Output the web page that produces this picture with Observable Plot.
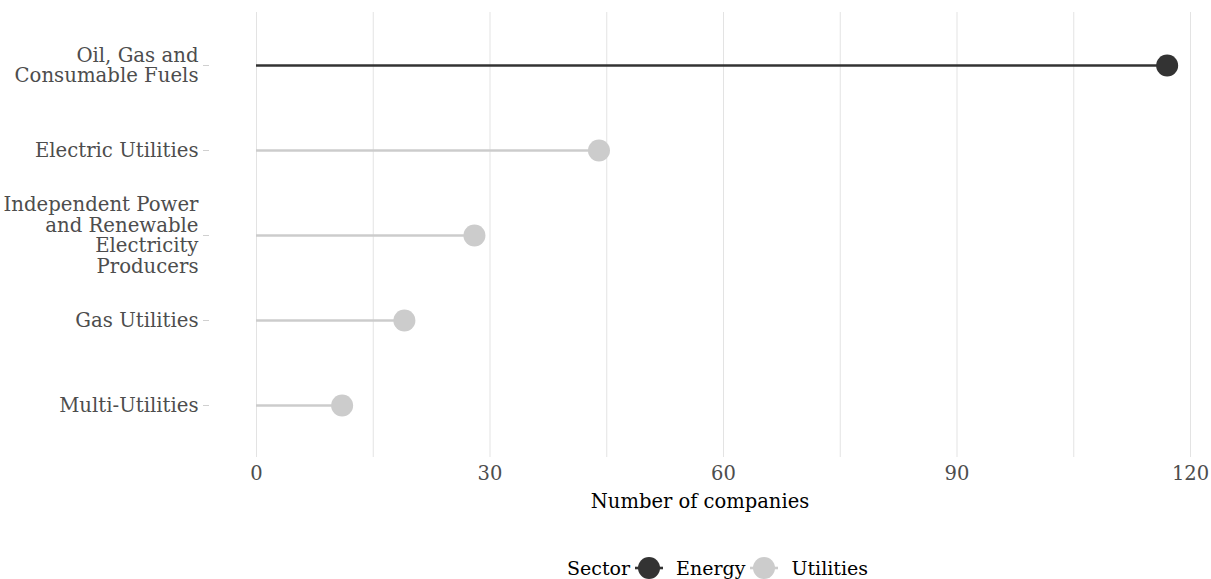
<!DOCTYPE html>
<html>
<head>
<meta charset="utf-8">
<script src="https://cdn.jsdelivr.net/npm/d3@7"></script>
<script src="https://cdn.jsdelivr.net/npm/@observablehq/plot@0.6"></script>
<style>
  html, body { margin: 0; padding: 0; background: #fff; }
  body { width: 1211px; height: 579px; overflow: hidden; font-family: "DejaVu Serif", serif; }
  #legend { display: flex; justify-content: flex-start; align-items: center; height: 30px; margin-top: 13px; font-size: 19px; color: #000; padding-left: 567px; }
  #legend .item { display: flex; align-items: center; }
  #legend svg { display: block; }
</style>
</head>
<body>
<div id="chart"></div>
<div id="legend"></div>
<script>
const industries = [
  "Oil, Gas and Consumable Fuels",
  "Electric Utilities",
  "Independent Power and Renewable Electricity Producers",
  "Gas Utilities",
  "Multi-Utilities"
];
const industryLabels = [
  "Oil, Gas and\nConsumable Fuels",
  "Electric Utilities",
  "Independent Power\nand Renewable\nElectricity\nProducers",
  "Gas Utilities",
  "Multi-Utilities"
];
const sectors = ["Energy", "Utilities", "Utilities", "Utilities", "Utilities"];
const counts = [117, 44, 28, 19, 11];
const sectorNames = ["Energy", "Utilities"];
const sectorColors = ["#333333", "#cccccc"];
const gridTicks = [0, 15, 30, 45, 60, 75, 90, 105, 120];
const labelTicks = [0, 30, 60, 90, 120];

const data = industries.map((d, i) => ({industry: d, label: industryLabels[i], sector: sectors[i], count: counts[i]}));
const labelOf = new Map(industries.map((d, i) => [d, industryLabels[i]]));

const chart = Plot.plot({
  width: 1211,
  height: 540,
  marginLeft: 209,
  marginRight: 21,
  marginTop: 12,
  marginBottom: 83,
  style: {fontFamily: "'DejaVu Serif', serif", fontSize: "19.5px", background: "#fff"},
  x: {domain: [-6.04, 120]},
  y: {type: "point", domain: industries, padding: 0.6},
  color: {domain: sectorNames, range: sectorColors},
  marks: [
    Plot.ruleX(gridTicks, {x: d => d, stroke: "#e3e3e3", strokeWidth: 1}),
    Plot.ruleY(data, {y: "industry", x1: 0, x2: "count", stroke: "sector", strokeWidth: 2.6}),
    Plot.dot(data, {y: "industry", x: "count", fill: "sector", r: 11}),
    Plot.axisY({tickSize: 6, tickPadding: 5, stroke: "#d0d0d0", tickFormat: d => labelOf.get(d), fill: "#4d4d4d", lineHeight: 1.04, fontSize: 19.7, label: null}),
    Plot.axisX({ticks: labelTicks, tickSize: 0, tickPadding: 9, fill: "#4d4d4d", fontSize: 19.5, label: null}),
    Plot.axisX({ticks: [], tickSize: 0, label: "Number of companies", labelAnchor: "center", labelArrow: "none", labelOffset: 50, fill: "#000", fontSize: 19.5})
  ]
});
document.getElementById("chart").appendChild(chart);

// legend
const legend = document.getElementById("legend");
const title = document.createElement("span");
title.textContent = "Sector";
legend.appendChild(title);
sectorNames.forEach((name, i) => {
  const item = document.createElement("span");
  item.className = "item";
  const ns = "http://www.w3.org/2000/svg";
  const svg = document.createElementNS(ns, "svg");
  svg.setAttribute("width", 30); svg.setAttribute("height", 26);
  svg.style.marginLeft = "4px";
  const line = document.createElementNS(ns, "line");
  line.setAttribute("x1", 1); line.setAttribute("x2", 29); line.setAttribute("y1", 13); line.setAttribute("y2", 13);
  line.setAttribute("stroke", sectorColors[i]); line.setAttribute("stroke-width", 2.6);
  const c = document.createElementNS(ns, "circle");
  c.setAttribute("cx", 15); c.setAttribute("cy", 13); c.setAttribute("r", 11);
  c.setAttribute("fill", sectorColors[i]);
  svg.appendChild(line); svg.appendChild(c);
  const t = document.createElement("span");
  t.textContent = name;
  t.style.marginLeft = "12px";
  item.appendChild(svg); item.appendChild(t);
  legend.appendChild(item);
});
</script>
</body>
</html>
